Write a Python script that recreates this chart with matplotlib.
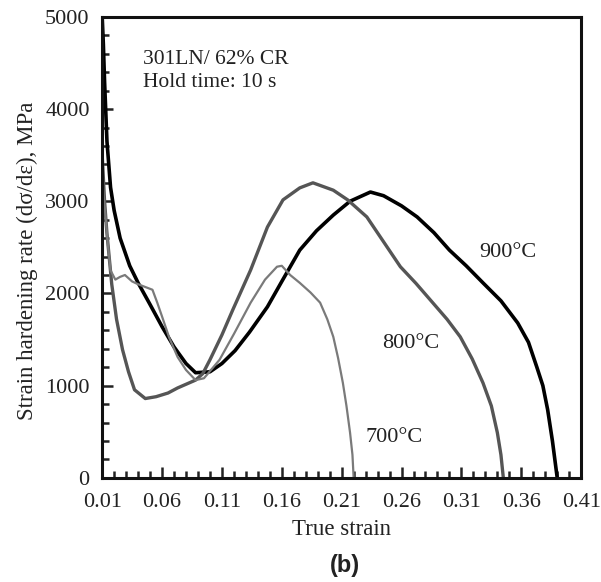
import numpy as np
import matplotlib.pyplot as plt
from matplotlib.ticker import MultipleLocator, FixedLocator

# ============================================================
# DATA
# ============================================================
strain_900 = [0.010, 0.011, 0.012, 0.014, 0.017, 0.020, 0.025, 0.033, 0.040, 0.050,
              0.060, 0.070, 0.080, 0.088, 0.100, 0.110, 0.121, 0.133, 0.148, 0.160,
              0.175, 0.189, 0.203, 0.217, 0.234, 0.245, 0.260, 0.273, 0.287, 0.300,
              0.314, 0.328, 0.343, 0.357, 0.366, 0.373, 0.378, 0.382, 0.386, 0.390]
rate_900 = [5000, 4700, 4300, 3650, 3150, 2900, 2600, 2300, 2115, 1880,
            1640, 1420, 1240, 1140, 1150, 1240, 1380, 1580, 1855, 2130,
            2470, 2680, 2850, 3000, 3100, 3060, 2950, 2830, 2660, 2470,
            2300, 2115, 1920, 1680, 1470, 1200, 1000, 740, 400, 0]

strain_800 = [0.010, 0.011, 0.012, 0.014, 0.018, 0.022, 0.027, 0.032, 0.037, 0.046,
              0.055, 0.065, 0.073, 0.088, 0.094, 0.100, 0.110, 0.119, 0.134, 0.148,
              0.161, 0.175, 0.186, 0.203, 0.215, 0.231, 0.245, 0.259, 0.272,
              0.286, 0.298, 0.309, 0.319, 0.328, 0.335, 0.340, 0.343, 0.345]
rate_800 = [3500, 3250, 3000, 2650, 2100, 1720, 1390, 1150, 955, 860,
            880, 920, 975, 1060, 1130, 1280, 1550, 1820, 2255, 2720,
            3015, 3145, 3200, 3120, 3015, 2830, 2560, 2290, 2110,
            1900, 1720, 1530, 1290, 1030, 780, 490, 250, 0]

strain_700 = [0.010, 0.011, 0.013, 0.015, 0.017, 0.021, 0.025, 0.029, 0.035, 0.040,
              0.046, 0.052, 0.056, 0.060, 0.066, 0.073, 0.080, 0.088, 0.095, 0.108,
              0.120, 0.134, 0.146, 0.156, 0.160, 0.167, 0.175, 0.184, 0.192,
              0.198, 0.203, 0.207, 0.211, 0.214, 0.217, 0.219, 0.220]
rate_700 = [3200, 3100, 2800, 2500, 2250, 2150, 2180, 2200, 2130, 2100,
            2070, 2040, 1900, 1750, 1520, 1310, 1170, 1060, 1080, 1280,
            1560, 1900, 2150, 2290, 2300, 2200, 2115, 2010, 1900,
            1720, 1530, 1300, 1030, 780, 490, 250, 0]

labels = ["900°C", "800°C", "700°C"]
label_pos = [(0.349, 2440), (0.268, 1460), (0.254, 440)]

x_ticks = [0.01, 0.06, 0.11, 0.16, 0.21, 0.26, 0.31, 0.36, 0.41]
x_ticklabels = ["0.01", "0.06", "0.11", "0.16", "0.21", "0.26", "0.31", "0.36", "0.41"]

# ============================================================
# PLOT
# ============================================================
plt.rcParams['font.family'] = ['Liberation Serif', 'DejaVu Serif']

fig = plt.figure(figsize=(6.01, 5.82), dpi=100)
ax = fig.add_axes([0.170, 0.179, 0.797, 0.792])

ax.plot(strain_900, rate_900, color='#000000', linewidth=2.6)
ax.plot(strain_800, rate_800, color='#555555', linewidth=2.4)
ax.plot(strain_700, rate_700, color='#7a7a7a', linewidth=1.6)

for lab, (lx, ly) in zip(labels, label_pos):
    ax.text(lx, ly, lab, fontsize=16, ha='center', va='center', color='#222222')

ax.text(0.044, 4640, "301LN/ 62% CR\nHold time: 10 s", fontsize=15.5,
        ha='left', va='top', linespacing=1.25, color='#222222')

ax.set_xlim(0.01, 0.41)
ax.set_ylim(0, 5000)
ax.xaxis.set_major_locator(FixedLocator(x_ticks))
ax.xaxis.set_minor_locator(FixedLocator(np.arange(0.01, 0.4101, 0.01)))
ax.yaxis.set_major_locator(MultipleLocator(1000))
ax.yaxis.set_minor_locator(MultipleLocator(200))
ax.set_xticklabels(x_ticklabels)

ax.tick_params(which='both', direction='in', top=False, right=False, width=1.8,
               labelsize=16, colors='#222222')
ax.tick_params(which='major', length=8)
ax.tick_params(which='minor', length=5)
ax.tick_params(axis='x', which='major', pad=11)
ax.tick_params(axis='y', which='major', pad=9)
for s in ax.spines.values():
    s.set_linewidth(2.2)
    s.set_color('#111111')

ax.set_xlabel("True strain", fontsize=16.5, labelpad=5, color='#222222')
ax.set_ylabel("Strain hardening rate (dσ/dε), MPa", fontsize=16.5, labelpad=6,
              color='#222222')
ax.yaxis.set_label_coords(-0.135, 0.47)

fig.text(0.574, 0.029, "(b)", fontsize=17, fontweight='bold', ha='center',
         va='center', family=['Liberation Sans', 'DejaVu Sans'], color='#222222')

fig.savefig("out.png", dpi=100)
